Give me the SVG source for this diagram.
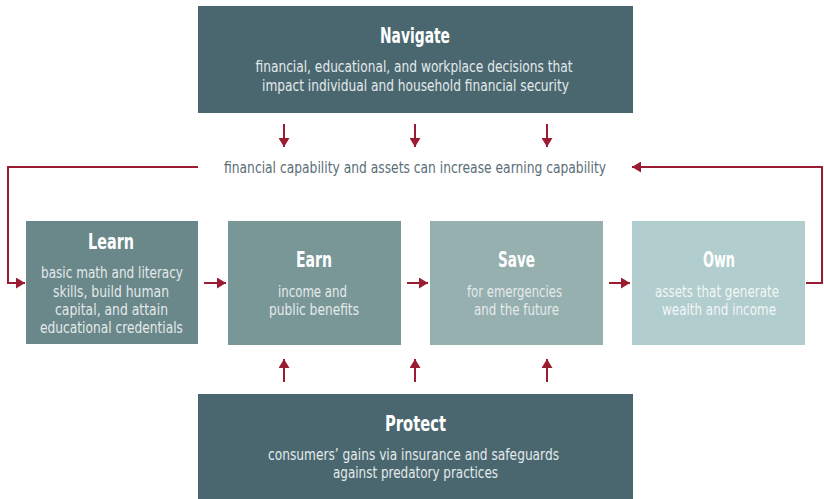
<svg xmlns="http://www.w3.org/2000/svg" width="824" height="499" viewBox="0 0 824 499">
<defs>
<marker id="ah" markerUnits="userSpaceOnUse" markerWidth="10" markerHeight="11" refX="9" refY="5.5" orient="auto">
<path d="M0,0 L9,5.5 L0,11 z" fill="#9a1c31"/>
</marker>
<style>
.t{font-family:"Liberation Sans Narrow","DejaVu Sans Condensed","Liberation Sans",sans-serif;font-stretch:condensed;text-anchor:middle}
.h{font-size:21px;font-weight:bold;fill:#ffffff}
.s{font-size:15.5px;fill:#e4eaeb}
.o{fill:#f3f7f7}
.m{font-size:15.5px;fill:#5a6e77}
.c{stroke:#9a1c31;stroke-width:2;fill:none}
</style>
</defs>
<rect width="824" height="499" fill="#ffffff"/>
<g id="navigate">
<rect x="198" y="6" width="435" height="107" fill="#4a6770"/>
<text class="t h" x="415" y="43" textLength="70" lengthAdjust="spacingAndGlyphs">Navigate</text>
<text class="t s" x="414" y="72" textLength="317" lengthAdjust="spacingAndGlyphs">financial, educational, and workplace decisions that</text>
<text class="t s" x="415.5" y="91" textLength="307" lengthAdjust="spacingAndGlyphs">impact individual and household financial security</text>
</g>
<g id="middle-label">
<text class="t m" x="415" y="173" textLength="382" lengthAdjust="spacingAndGlyphs">financial capability and assets can increase earning capability</text>
</g>
<g id="learn">
<rect x="26" y="221" width="172" height="123" fill="#6a8789"/>
<text class="t h" x="111" y="249" textLength="46" lengthAdjust="spacingAndGlyphs">Learn</text>
<text class="t s" x="112" y="278" textLength="142" lengthAdjust="spacingAndGlyphs">basic math and literacy</text>
<text class="t s" x="111" y="297" textLength="116" lengthAdjust="spacingAndGlyphs">skills, build human</text>
<text class="t s" x="111.5" y="315" textLength="113" lengthAdjust="spacingAndGlyphs">capital, and attain</text>
<text class="t s" x="111.5" y="333" textLength="143" lengthAdjust="spacingAndGlyphs">educational credentials</text>
</g>
<g id="earn">
<rect x="228" y="221" width="173" height="124" fill="#7a9797"/>
<text class="t h" x="314" y="267" textLength="36" lengthAdjust="spacingAndGlyphs">Earn</text>
<text class="t s" x="312.5" y="297" textLength="69" lengthAdjust="spacingAndGlyphs">income and</text>
<text class="t s" x="314" y="315" textLength="90" lengthAdjust="spacingAndGlyphs">public benefits</text>
</g>
<g id="save">
<rect x="430" y="221" width="173" height="124" fill="#96b0b0"/>
<text class="t h" x="516.5" y="267" textLength="37" lengthAdjust="spacingAndGlyphs">Save</text>
<text class="t s" x="514.5" y="297" textLength="95" lengthAdjust="spacingAndGlyphs">for emergencies</text>
<text class="t s" x="516.5" y="315" textLength="85" lengthAdjust="spacingAndGlyphs">and the future</text>
</g>
<g id="own">
<rect x="632" y="221" width="173" height="124" fill="#b1cdcd"/>
<text class="t h" x="719" y="267" textLength="32" lengthAdjust="spacingAndGlyphs">Own</text>
<text class="t s o" x="717" y="297" textLength="124" lengthAdjust="spacingAndGlyphs">assets that generate</text>
<text class="t s o" x="719" y="315" textLength="114" lengthAdjust="spacingAndGlyphs">wealth and income</text>
</g>
<g id="protect">
<rect x="198" y="394" width="435" height="105" fill="#4a6770"/>
<text class="t h" x="415.5" y="431" textLength="61" lengthAdjust="spacingAndGlyphs">Protect</text>
<text class="t s" x="413.5" y="460" textLength="291" lengthAdjust="spacingAndGlyphs">consumers’ gains via insurance and safeguards</text>
<text class="t s" x="415.5" y="478" textLength="165" lengthAdjust="spacingAndGlyphs">against predatory practices</text>
</g>
<g id="connectors">
<line class="c" x1="284" y1="124" x2="284" y2="147" marker-end="url(#ah)"/>
<line class="c" x1="415" y1="124" x2="415" y2="147" marker-end="url(#ah)"/>
<line class="c" x1="547" y1="124" x2="547" y2="147" marker-end="url(#ah)"/>
<line class="c" x1="284" y1="382" x2="284" y2="359" marker-end="url(#ah)"/>
<line class="c" x1="415" y1="382" x2="415" y2="359" marker-end="url(#ah)"/>
<line class="c" x1="547" y1="382" x2="547" y2="359" marker-end="url(#ah)"/>
<line class="c" x1="204" y1="283" x2="226" y2="283" marker-end="url(#ah)"/>
<line class="c" x1="407" y1="283" x2="428" y2="283" marker-end="url(#ah)"/>
<line class="c" x1="609" y1="283" x2="630" y2="283" marker-end="url(#ah)"/>
<polyline class="c" points="198,167 8,167 8,283 25,283" marker-end="url(#ah)"/>
<polyline class="c" points="806,283 822,283 822,167 632,167" marker-end="url(#ah)"/>
</g>
</svg>
